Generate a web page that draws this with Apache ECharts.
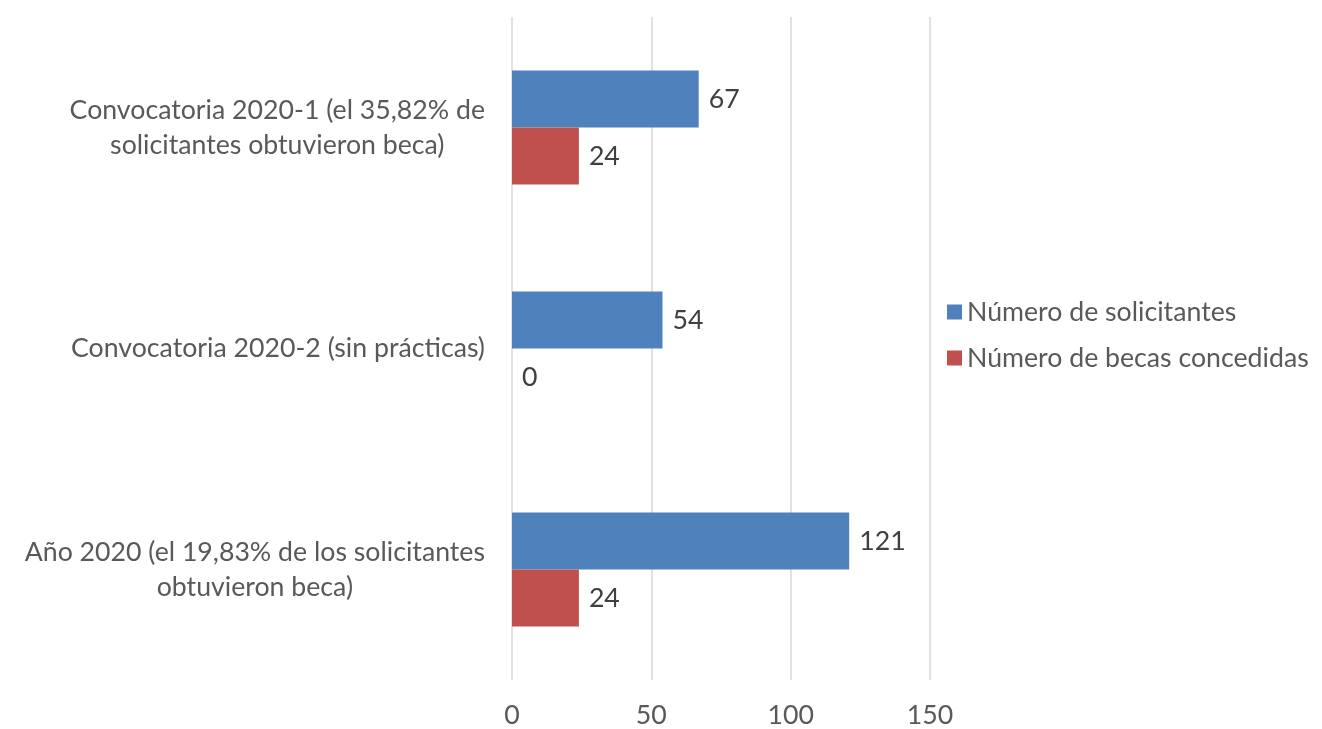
<!DOCTYPE html>
<html><head><meta charset="utf-8">
<script src="https://cdn.jsdelivr.net/npm/echarts@6/dist/echarts.min.js"></script>
<style>html,body{margin:0;padding:0;background:#fff}#c{width:1322px;height:729px}</style>
</head><body><div id="c"></div>
<script>
const categories = [
  'Convocatoria 2020-1 (el 35,82% de\nsolicitantes obtuvieron beca)',
  'Convocatoria 2020-2 (sin prácticas)',
  'Año 2020 (el 19,83% de los solicitantes\nobtuvieron beca)'
];
const seriesNames = ['Número de solicitantes', 'Número de becas concedidas'];
const solicitantes = [67, 54, 121];
const becas = [24, 0, 24];
const xTicks = [0, 50, 100, 150];

const FONT = 'Lato';
// match the reference text width (Calibri-like) by measuring
const cv = document.createElement('canvas').getContext('2d');
cv.font = '100px ' + FONT;
const w100 = cv.measureText('Convocatoria 2020-1 (el 35,82% de').width;
const FS = Math.round(100 * 416 / w100 * 10) / 10;

const chart = echarts.init(document.getElementById('c'));
chart.setOption({
  animation: false,
  textStyle: { fontFamily: FONT },
  grid: { left: 512, right: 392, top: 17, bottom: 40, containLabel: false },
  legend: {
    orient: 'vertical', left: 942, top: 291,
    itemWidth: 15, itemHeight: 15, itemGap: 14, icon: 'rect',
    textStyle: { fontSize: FS, color: '#595959', fontFamily: FONT, lineHeight: 32 },
    data: seriesNames
  },
  xAxis: {
    type: 'value', min: 0, max: 150, interval: 50,
    axisLine: { show: false }, axisTick: { show: false },
    splitLine: { show: true, lineStyle: { color: '#D9D9D9', width: 1.5 } },
    axisLabel: { margin: 22, fontSize: FS, color: '#595959', fontFamily: FONT,
      formatter: v => xTicks.includes(v) ? String(v) : '' }
  },
  yAxis: {
    type: 'category', data: categories, inverse: true,
    axisLine: { show: false }, axisTick: { show: false },
    axisLabel: {
      margin: 27, align: 'right', color: '#595959', fontSize: FS, fontFamily: FONT,
      formatter: v => v.split('\n').map(l => '{c|' + l + '}').join('\n'),
      rich: { c: { align: 'center', fontSize: FS, lineHeight: 35, color: '#595959', fontFamily: FONT } }
    }
  },
  series: [
    { name: seriesNames[0], type: 'bar', data: solicitantes, barWidth: 57, barGap: '0%',
      itemStyle: { color: '#4F81BD' },
      label: { show: true, position: 'right', distance: 10, fontSize: FS, color: '#404040', fontFamily: FONT } },
    { name: seriesNames[1], type: 'bar', data: becas, barWidth: 57, barGap: '0%',
      itemStyle: { color: '#C0504D' },
      label: { show: true, position: 'right', distance: 10, fontSize: FS, color: '#404040', fontFamily: FONT } }
  ]
});
</script></body></html>
